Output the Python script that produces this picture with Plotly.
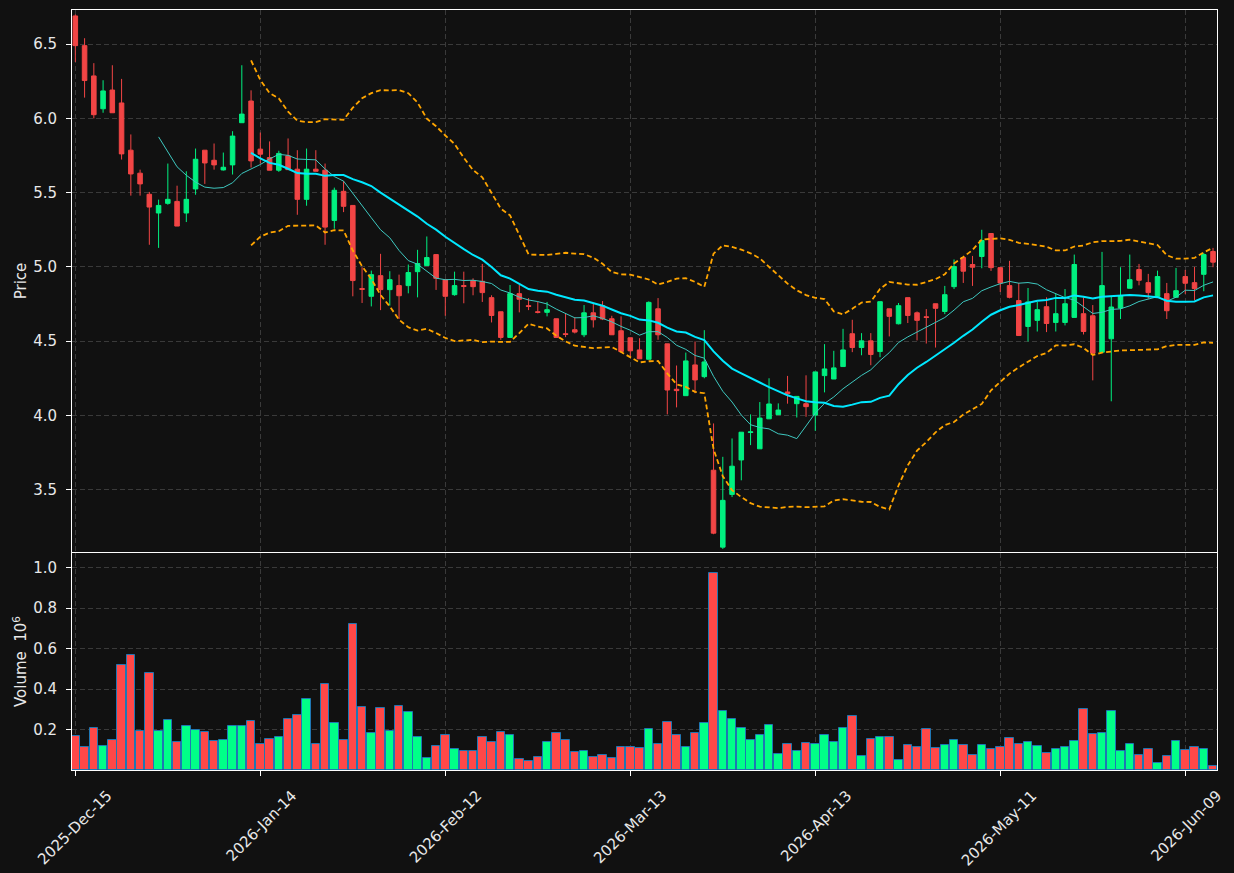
import numpy as np
import pandas as pd
import plotly.graph_objects as go

# ---------------- data ----------------
opens = [6.69, 6.49, 6.286, 6.065, 6.191, 6.104, 5.786, 5.631, 5.489, 5.363,
         5.428, 5.441, 5.363, 5.525, 5.786, 5.718, 5.653, 5.687, 5.971, 6.117,
         5.793, 5.736, 5.651, 5.748, 5.658, 5.455, 5.658, 5.651, 5.313, 5.509,
         5.414, 4.854, 4.802, 4.941, 4.847, 4.874, 4.874, 4.968, 5.009, 5.083,
         4.914, 4.813, 4.874, 4.908, 4.903, 4.793, 4.698, 4.525, 4.820, 4.739,
         4.698, 4.694, 4.651, 4.550, 4.577, 4.543, 4.691, 4.739, 4.651, 4.570,
         4.523, 4.441, 4.378, 4.718, 4.482, 4.176, 4.133, 4.340, 4.261, 3.631,
         3.113, 3.468, 3.700, 3.885, 3.775, 3.977, 4.005, 4.158, 4.079, 4.079,
         4.002, 4.268, 4.245, 4.329, 4.550, 4.457, 4.502, 4.430, 4.718, 4.617,
         4.793, 4.691, 4.664, 4.752, 4.700, 4.867, 5.063, 5.016, 5.070, 5.225,
         4.995, 4.874, 4.773, 4.599, 4.640, 4.732, 4.626, 4.626, 4.660, 4.685,
         4.671, 4.426, 4.516, 4.723, 4.856, 4.982, 4.894, 4.800, 4.820, 4.795,
         4.935, 4.894, 4.950, 5.104]
highs = [6.70, 6.54, 6.372, 6.257, 6.358, 6.266, 5.892, 5.655, 5.505, 5.453,
         5.696, 5.547, 5.644, 5.797, 5.786, 5.831, 5.770, 5.914, 6.358, 6.189,
         5.905, 5.845, 5.782, 5.865, 5.786, 5.797, 5.786, 5.696, 5.534, 5.579,
         5.414, 4.998, 4.975, 5.088, 4.971, 4.948, 5.016, 5.115, 5.205, 5.083,
         4.914, 4.968, 4.968, 4.923, 5.020, 4.809, 4.698, 4.878, 4.878, 4.790,
         4.764, 4.764, 4.651, 4.689, 4.662, 4.743, 4.750, 4.770, 4.671, 4.667,
         4.523, 4.520, 4.768, 4.790, 4.482, 4.336, 4.423, 4.498, 4.574, 3.946,
         3.721, 3.845, 3.887, 4.007, 4.090, 4.250, 4.081, 4.266, 4.128, 4.270,
         4.293, 4.480, 4.435, 4.583, 4.644, 4.554, 4.554, 4.766, 4.718, 4.757,
         4.793, 4.700, 4.716, 4.752, 4.872, 5.050, 5.063, 5.074, 5.250, 5.225,
         4.995, 5.041, 4.892, 4.858, 4.764, 4.795, 4.820, 4.851, 5.083, 4.795,
         4.743, 5.101, 4.802, 4.998, 5.083, 5.020, 4.953, 4.975, 4.892, 4.993,
         4.980, 5.000, 5.095, 5.128]
lows = [6.38, 6.14, 6.00, 6.038, 6.038, 5.723, 5.480, 5.480, 5.149, 5.128,
        5.419, 5.275, 5.302, 5.486, 5.559, 5.655, 5.649, 5.622, 5.971, 5.669,
        5.696, 5.651, 5.640, 5.655, 5.351, 5.412, 5.644, 5.149, 5.257, 5.369,
        4.802, 4.757, 4.734, 4.709, 4.739, 4.649, 4.822, 4.795, 5.009, 4.845,
        4.671, 4.806, 4.755, 4.809, 4.764, 4.626, 4.509, 4.525, 4.694, 4.709,
        4.687, 4.667, 4.525, 4.527, 4.552, 4.527, 4.592, 4.642, 4.543, 4.423,
        4.396, 4.381, 4.378, 4.509, 4.007, 4.054, 4.133, 4.149, 4.250, 3.200,
        3.101, 3.450, 3.563, 3.800, 3.775, 3.977, 4.005, 4.079, 3.986, 3.991,
        3.896, 4.155, 4.245, 4.329, 4.426, 4.405, 4.338, 4.392, 4.532, 4.613,
        4.622, 4.505, 4.484, 4.457, 4.682, 4.851, 4.892, 4.872, 4.991, 4.973,
        4.831, 4.788, 4.538, 4.498, 4.565, 4.561, 4.565, 4.606, 4.660, 4.545,
        4.236, 4.426, 4.095, 4.649, 4.856, 4.876, 4.786, 4.800, 4.649, 4.795,
        4.818, 4.775, 4.836, 4.998]
closes = [6.49, 6.255, 6.025, 6.185, 6.038, 5.761, 5.626, 5.559, 5.403, 5.414,
          5.455, 5.275, 5.455, 5.725, 5.700, 5.687, 5.671, 5.881, 6.029, 5.714,
          5.759, 5.651, 5.764, 5.655, 5.455, 5.658, 5.644, 5.268, 5.516, 5.408,
          4.908, 4.849, 4.948, 4.847, 4.914, 4.806, 4.962, 5.023, 5.063, 4.923,
          4.802, 4.874, 4.869, 4.867, 4.827, 4.673, 4.525, 4.820, 4.782, 4.734,
          4.694, 4.712, 4.525, 4.545, 4.561, 4.691, 4.644, 4.649, 4.543, 4.430,
          4.435, 4.381, 4.761, 4.543, 4.171, 4.167, 4.367, 4.239, 4.360, 3.207,
          3.428, 3.658, 3.887, 3.889, 3.982, 4.077, 4.036, 4.146, 4.128, 4.059,
          4.293, 4.313, 4.320, 4.441, 4.457, 4.502, 4.410, 4.766, 4.667, 4.739,
          4.673, 4.640, 4.660, 4.721, 4.813, 5.002, 4.971, 4.998, 5.178, 4.995,
          4.892, 4.795, 4.538, 4.764, 4.712, 4.619, 4.685, 4.752, 5.016, 4.565,
          4.419, 4.874, 4.730, 4.806, 4.914, 4.910, 4.827, 4.935, 4.705, 4.840,
          4.890, 4.854, 5.083, 5.032]
volumes_m = [0.169, 0.115, 0.208, 0.120, 0.149, 0.518, 0.567, 0.193, 0.479, 0.193,
             0.248, 0.139, 0.218, 0.198, 0.189, 0.144, 0.149, 0.218, 0.218, 0.243,
             0.130, 0.154, 0.164, 0.252, 0.272, 0.351, 0.130, 0.425, 0.233, 0.149,
             0.720, 0.311, 0.184, 0.307, 0.193, 0.316, 0.287, 0.164, 0.061, 0.120,
             0.174, 0.105, 0.095, 0.095, 0.164, 0.139, 0.189, 0.174, 0.056, 0.046,
             0.066, 0.139, 0.184, 0.149, 0.090, 0.095, 0.066, 0.075, 0.061, 0.115,
             0.115, 0.110, 0.203, 0.130, 0.238, 0.174, 0.115, 0.184, 0.233, 0.975,
             0.292, 0.252, 0.208, 0.149, 0.174, 0.223, 0.080, 0.130, 0.095, 0.134,
             0.130, 0.174, 0.139, 0.208, 0.267, 0.070, 0.154, 0.164, 0.164, 0.049,
             0.125, 0.115, 0.203, 0.110, 0.125, 0.149, 0.125, 0.075, 0.125, 0.105,
             0.115, 0.159, 0.130, 0.139, 0.120, 0.085, 0.105, 0.115, 0.144, 0.302,
             0.179, 0.184, 0.292, 0.095, 0.130, 0.075, 0.105, 0.036, 0.070, 0.144,
             0.100, 0.115, 0.105, 0.021]

tick_labels = ["2025-Dec-15", "2026-Jan-14", "2026-Feb-12", "2026-Mar-13",
               "2026-Apr-13", "2026-May-11", "2026-Jun-09"]
price_ticks = [3.5, 4.0, 4.5, 5.0, 5.5, 6.0, 6.5]
volume_ticks = [0.2, 0.4, 0.6, 0.8, 1.0]

# ---------------- derived ----------------
n = len(closes)
x = np.arange(n)
close_s = pd.Series(closes)
ma10 = close_s.rolling(10).mean()
ma20 = close_s.rolling(20).mean()
sd20 = close_s.rolling(20).std(ddof=0)
bb_up = ma20 + 2 * sd20
bb_lo = ma20 - 2 * sd20

GREEN = "#00f080"
RED = "#f24545"
VGREEN = "#00ff88"
VRED = "#ff4848"
vol_colors = [VGREEN if c >= o else VRED for o, c in zip(opens, closes)]

TXT = "#e8e8e8"
GRID = "#3a3a3a"
FONT = dict(family="DejaVu Sans", size=15, color=TXT)

fig = go.Figure()

fig.add_trace(go.Candlestick(
    x=x, open=opens, high=highs, low=lows, close=closes,
    increasing=dict(line=dict(color=GREEN, width=1), fillcolor=GREEN),
    decreasing=dict(line=dict(color=RED, width=1), fillcolor=RED),
    whiskerwidth=0, xaxis="x", yaxis="y", showlegend=False, hoverinfo="skip"))

fig.add_trace(go.Scatter(x=x, y=bb_up, mode="lines",
                         line=dict(color="#ffa500", width=1.8, dash="5px,3px"),
                         xaxis="x", yaxis="y", showlegend=False))
fig.add_trace(go.Scatter(x=x, y=bb_lo, mode="lines",
                         line=dict(color="#ffa500", width=1.8, dash="5px,3px"),
                         xaxis="x", yaxis="y", showlegend=False))
fig.add_trace(go.Scatter(x=x, y=ma10, mode="lines",
                         line=dict(color="#3ec8c0", width=1),
                         xaxis="x", yaxis="y", showlegend=False))
fig.add_trace(go.Scatter(x=x, y=ma20, mode="lines",
                         line=dict(color="#00e8ff", width=2),
                         xaxis="x", yaxis="y", showlegend=False))

fig.add_trace(go.Bar(x=x, y=volumes_m, marker=dict(color=vol_colors,
                     line=dict(color="#1f77b4", width=1)),
                     width=0.92, xaxis="x2", yaxis="y2", showlegend=False))

xr = [-0.36, 123.43]
tickvals = list(range(0, n, 20))[:len(tick_labels)]

common_x = dict(range=xr, showgrid=True, gridcolor=GRID, griddash="5px,3px", gridwidth=1,
                showline=True, linecolor="white", linewidth=1, mirror=True,
                tickvals=tickvals, zeroline=False, fixedrange=True, automargin=False)

fig.update_layout(
    width=1234, height=873,
    paper_bgcolor="#111111", plot_bgcolor="#111111",
    font=FONT,
    margin=dict(l=72, r=17, t=10, b=103, autoexpand=False),
    showlegend=False,
    bargap=0,
    xaxis=dict(**common_x, domain=[0, 1], anchor="y", showticklabels=False,
               rangeslider=dict(visible=False), ticks=""),
    xaxis2=dict(**common_x, domain=[0, 1], anchor="y2", matches="x",
                ticktext=tick_labels, tickangle=-45, ticks="outside", ticklen=5,
                tickcolor="white", tickfont=FONT,
                ticklabelshift=32, ticklabelstandoff=5),
    yaxis=dict(domain=[0.2868, 1], range=[3.08, 6.73], anchor="x",
               tickvals=price_ticks,
               ticktext=[f"{v:.1f}" for v in price_ticks],
               showgrid=True, gridcolor=GRID, griddash="5px,3px", zeroline=False,
               showline=True, linecolor="white", linewidth=1, mirror=True,
               ticks="outside", ticklen=5, tickcolor="white", tickfont=FONT,
               ticklabelstandoff=6, automargin=False,
               title=dict(text="Price", font=FONT, standoff=2)),
    yaxis2=dict(domain=[0, 0.2855], range=[0, 1.1 * max(volumes_m)], anchor="x2",
                tickvals=volume_ticks,
                ticktext=[f"{v:.1f}" for v in volume_ticks],
                showgrid=True, gridcolor=GRID, griddash="5px,3px", zeroline=False,
                showline=True, linecolor="white", linewidth=1, mirror=True,
                ticks="outside", ticklen=5, tickcolor="white", tickfont=FONT,
                ticklabelstandoff=6, automargin=False,
                title=dict(text="Volume  10<sup>6</sup>", font=FONT, standoff=2)),
)

fig.write_html("out.html")
